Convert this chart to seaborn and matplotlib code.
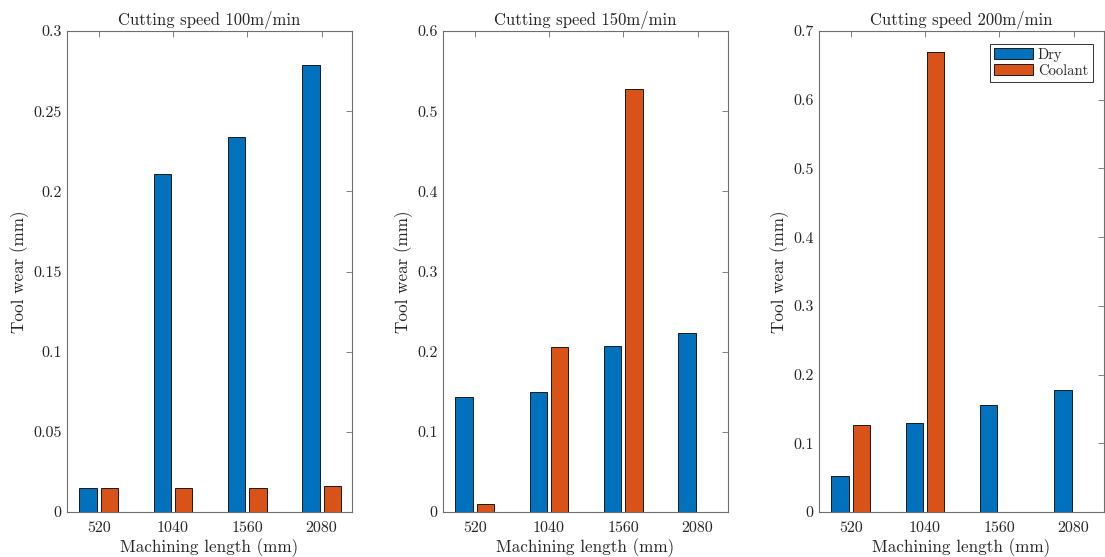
import matplotlib
matplotlib.use("Agg")
import matplotlib.pyplot as plt
import seaborn as sns
import pandas as pd
from matplotlib.ticker import FuncFormatter

lengths = ["520", "1040", "1560", "2080"]
conditions = ["Dry", "Coolant"]
titles = ["Cutting speed 100m/min", "Cutting speed 150m/min", "Cutting speed 200m/min"]

dry_100 = [0.015, 0.211, 0.234, 0.279]
coolant_100 = [0.015, 0.015, 0.015, 0.016]
dry_150 = [0.143, 0.150, 0.207, 0.223]
coolant_150 = [0.010, 0.206, 0.528, 0.0]
dry_200 = [0.052, 0.130, 0.156, 0.177]
coolant_200 = [0.127, 0.669, 0.0, 0.0]

ymax = [0.3, 0.6, 0.7]
ystep = [0.05, 0.1, 0.1]

series = [(dry_100, coolant_100), (dry_150, coolant_150), (dry_200, coolant_200)]

sns.set_theme(style="white")
plt.rcParams["font.family"] = ["cmr10", "DejaVu Serif"]
plt.rcParams["axes.formatter.use_mathtext"] = True
plt.rcParams["mathtext.fontset"] = "cm"

colors = ["#0072BD", "#D95319"]
axcol = "#262626"
spinecol = "#6e6e6e"

fig = plt.figure(figsize=(11.05, 5.57), dpi=100)
lefts = [67, 443, 819]
W, H = 1105, 557
for i in range(3):
    ax = fig.add_axes([lefts[i] / W, (H - 512) / H, 285 / W, (512 - 31) / H])
    dry, cool = series[i]
    df = pd.DataFrame({
        "length": lengths * 2,
        "wear": list(dry) + list(cool),
        "cond": [conditions[0]] * 4 + [conditions[1]] * 4,
    })
    sns.barplot(data=df, x="length", y="wear", hue="cond", order=lengths,
                hue_order=conditions, palette=colors, width=0.572, gap=0.185,
                edgecolor="#1a1a1a", linewidth=0.7, errorbar=None, ax=ax,
                saturation=1, legend=(i == 2))
    ax.set_xlim(-0.426, 3.41)
    ax.set_ylim(0, ymax[i])
    n = int(round(ymax[i] / ystep[i]))
    ax.set_yticks([k * ystep[i] for k in range(n + 1)])
    ax.yaxis.set_major_formatter(FuncFormatter(lambda v, p: "%g" % round(v, 4)))
    ax.set_title(titles[i], fontsize=12, color=axcol, pad=4)
    ax.set_xlabel("Machining length (mm)", fontsize=12.3, color=axcol, labelpad=2)
    ax.set_ylabel("Tool wear (mm)", fontsize=12.3, color=axcol, labelpad=3)
    ax.tick_params(direction="in", top=True, right=True, length=4, width=0.6,
                   colors=spinecol, labelcolor=axcol, labelsize=11.5, pad=4)
    ax.tick_params(axis="x", pad=7)
    for s in ax.spines.values():
        s.set_color(spinecol)
        s.set_linewidth(0.8)
    if i == 2:
        h, l = ax.get_legend_handles_labels()
        ax.legend(h, l, loc="upper right", bbox_to_anchor=(0.97, 0.98),
                  fontsize=10.5, frameon=True, fancybox=False, edgecolor="#333333",
                  framealpha=1, handlelength=2.7, handleheight=0.75,
                  borderpad=0.3, labelspacing=0.15, handletextpad=0.3,
                  borderaxespad=0.2)
        ax.get_legend().get_frame().set_linewidth(0.7)

fig.savefig("out.png", dpi=100)
